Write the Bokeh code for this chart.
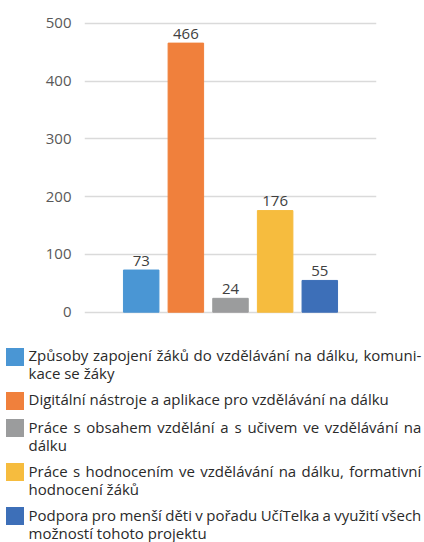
from bokeh.plotting import figure
from bokeh.models import FactorRange, Range1d, FixedTicker, Div, ColumnDataSource
from bokeh.layouts import column
from bokeh.core.properties import value
from bokeh.embed import file_html
from bokeh.resources import INLINE

# ---- data ----
categories = [
    "Způsoby zapojení žáků do vzdělávání na dálku, komunikace se žáky",
    "Digitální nástroje a aplikace pro vzdělávání na dálku",
    "Práce s obsahem vzdělání a s učivem ve vzdělávání na dálku",
    "Práce s hodnocením ve vzdělávání na dálku, formativní hodnocení žáků",
    "Podpora pro menší děti v pořadu UčíTelka a využití všech možností tohoto projektu",
]
counts = [73, 466, 24, 176, 55]
colors = ["#4a96d4", "#f0803c", "#9b9c9d", "#f6bc3e", "#3d6fb8"]
y_ticks = [0, 100, 200, 300, 400, 500]
# legend text broken into lines as printed
legend_lines = [
    ["Způsoby zapojení žáků do vzdělávání na dálku, komuni-", "kace se žáky"],
    ["Digitální nástroje a aplikace pro vzdělávání na dálku"],
    ["Práce s obsahem vzdělání a s učivem ve vzdělávání na", "dálku"],
    ["Práce s hodnocením ve vzdělávání na dálku, formativní", "hodnocení žáků"],
    ["Podpora pro menší děti v pořadu UčíTelka a využití všech", "možností tohoto projektu"],
]

source = ColumnDataSource(dict(cat=categories, count=counts, color=colors,
                               label=[str(c) for c in counts]))

p = figure(
    x_range=FactorRange(factors=categories, range_padding=0.308),
    y_range=Range1d(-7.45, 517.3),
    width=416, height=346,
    min_border_left=84, min_border_right=40, min_border_top=13, min_border_bottom=30,
    x_axis_location=None,
    output_backend="svg", toolbar_location=None,
)
p.outline_line_color = None
p.background_fill_color = "white"
p.border_fill_color = "white"

p.vbar(x="cat", top="count", width=0.795, color="color", source=source)
p.text(x="cat", y="count", text="label", source=source,
       text_align="center", text_baseline="alphabetic", y_offset=-9.5,
       text_font=value("Open Sans"), text_font_size="15px", text_color="#404040")

p.xgrid.grid_line_color = None
p.ygrid.grid_line_color = "#dadada"
p.ygrid.grid_line_width = 1.4
p.yaxis.ticker = FixedTicker(ticks=y_ticks)
p.yaxis.axis_line_color = None
p.yaxis.major_tick_line_color = None
p.yaxis.minor_tick_line_color = None
p.yaxis.major_tick_out = 0
p.yaxis.major_tick_in = 0
p.yaxis.major_label_standoff = 13
p.yaxis.major_label_text_font = "Open Sans"
p.yaxis.major_label_text_font_size = "15px"
p.yaxis.major_label_text_color = "#595959"

# ---- legend (HTML, justified like the print) ----
parts = ['<div style="margin-left:6px;font-family:\'Open Sans\';font-size:15px;'
         'line-height:18.2px;color:#2a2a2a;width:415px;">']
for i, (lines, col) in enumerate(zip(legend_lines, colors)):
    mt = 0 if i == 0 else 7.8
    parts.append(f'<div style="display:flex;align-items:flex-start;margin-top:{mt}px;">')
    parts.append(f'<div style="flex:none;width:18px;height:18px;background:{col};'
                 f'margin-top:1.5px;margin-right:4.5px;"></div>')
    parts.append('<div style="flex:none;width:392.8px;">')
    for j, line in enumerate(lines):
        if j < len(lines) - 1:
            words = "".join(f"<span>{w}</span>" for w in line.split(" "))
            parts.append('<div style="display:flex;justify-content:space-between;'
                         f'white-space:nowrap;">{words}</div>')
        else:
            parts.append(f'<div style="white-space:nowrap;">{line}</div>')
    parts.append('</div></div>')
parts.append('</div>')

legend = Div(text="".join(parts), width=422, height=196, margin=0,
             styles={"overflow": "visible"})

layout = column(p, legend, spacing=0)

open("out.html", "w").write(file_html(layout, INLINE))
